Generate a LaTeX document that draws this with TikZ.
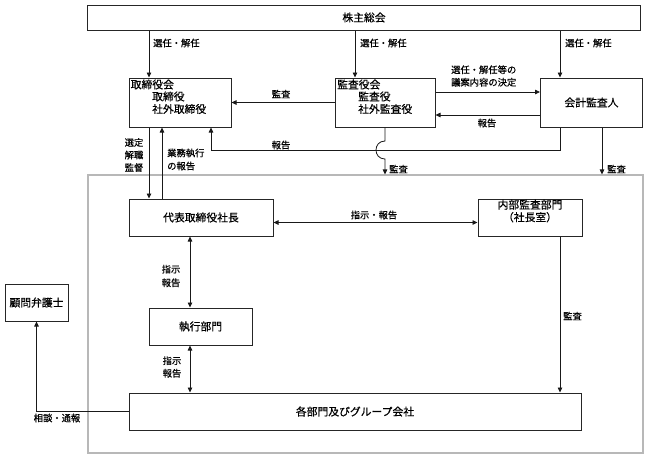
\documentclass[tikz,border=0pt]{standalone}
\usepackage{fontspec}
\setmainfont{Noto Sans CJK JP}[FakeBold=0.6]
\usetikzlibrary{arrows.meta,calc}
\newcommand\boxfnt{\fontsize{10.8}{13}\selectfont}
\newcommand\lblfnt{\fontsize{9.3}{12.5}\selectfont}
\tikzset{
  box/.style={draw=black!85, line width=1pt, inner sep=0pt, font=\boxfnt},
  outerbox/.style={draw=black!28, line width=1.1pt, inner sep=0pt},
  txt/.style={inner sep=0pt, font=\boxfnt},
  lbl/.style={inner sep=0pt, font=\lblfnt},
  conn/.style={draw=black!90, line width=0.8pt},
  arr/.style={conn, -{Triangle[length=5pt,width=4.5pt]}},
  darr/.style={conn, {Triangle[length=5pt,width=4.5pt]}-{Triangle[length=5pt,width=4.5pt]}}
}
\begin{document}
\begin{tikzpicture}[x=1pt,y=-1pt]
\useasboundingbox (0,0) rectangle (648,459);
% boxes
\node[outerbox, minimum width=555pt, minimum height=278pt] (grp) at (365.5,314) {};
\node[box, minimum width=553pt, minimum height=25pt] (kabu) at (364,17.5) {株主総会};
\node[box, minimum width=102pt, minimum height=49pt] (tori) at (180,102.5) {};
\node[box, minimum width=100pt, minimum height=49pt] (kansa) at (385,102.5) {};
\node[box, minimum width=102pt, minimum height=49pt] (kaikei) at (591.5,102.5) {会計監査人};
\node[box, minimum width=144pt, minimum height=37pt] (daihyo) at (201,217.5) {代表取締役社長};
\node[box, minimum width=104pt, minimum height=37pt] (naibu) at (530,217.5) {};
\node[box, minimum width=103pt, minimum height=37pt] (shikko) at (200.5,326.5) {執行部門};
\node[box, minimum width=452pt, minimum height=37pt] (kakubu) at (355,411.5) {各部門及びグループ会社};
\node[box, minimum width=63pt, minimum height=37pt] (komon) at (36.5,302.5) {顧問弁護士};
% texts inside boxes
\node[txt, anchor=west] (t1) at (130.5,84.5) {取締役会};
\node[txt, anchor=west] (t2) at (152,96.5) {取締役};
\node[txt, anchor=west] (t3) at (152,109) {社外取締役};
\node[txt, anchor=west] (k1) at (337,84.5) {監査役会};
\node[txt, anchor=west] (k2) at (358,96.5) {監査役};
\node[txt, anchor=west] (k3) at (358,109) {社外監査役};
\node[txt, align=center, font={\fontsize{10.8}{12.5}\selectfont}] (n1) at (530,211) {内部監査部門\\（社長室）};
% helper coordinates
\coordinate (xa) at (149,0);
\coordinate (xb) at (355,0);
\coordinate (xc) at (560,0);
\coordinate (xd) at (162,0);
\coordinate (xe) at (211,0);
\coordinate (xf) at (385,0);
\coordinate (xg) at (602,0);
\coordinate (xh) at (190,0);
\coordinate (yb) at (0,92);
\coordinate (yc) at (0,115);
\coordinate (yd) at (0,150);
\coordinate (ye) at (0,222.5);
\coordinate (hop) at (xf |- yd);
% connectors
\draw[arr] (kabu.south -| xa) -- (tori.north -| xa);
\draw[arr] (kabu.south -| xb) -- (kansa.north -| xb);
\draw[arr] (kabu.south -| xc) -- (kaikei.north -| xc);
\draw[arr] (kansa.west) -- (tori.east);
\draw[arr] (kansa.east |- yb) -- (kaikei.west |- yb);
\draw[arr] (kaikei.west |- yc) -- (kansa.east |- yc);
\draw[arr] (kaikei.south -| xc) -- (xc |- yd) -- (xe |- yd) -- (tori.south -| xe);
\draw[arr] (kansa.south -| xf) -- ($(hop)+(0,-9)$) .. controls +(-12,0) and +(-12,0) .. ($(hop)+(0,9)$) -- (grp.north -| xf);
\draw[arr] (kaikei.south -| xg) -- (grp.north -| xg);
\draw[arr] (tori.south -| xa) -- (daihyo.north -| xa);
\draw[arr] (daihyo.north -| xd) -- (tori.south -| xd);
\draw[darr] (daihyo.east |- ye) -- (naibu.west |- ye);
\draw[darr] (daihyo.south -| xh) -- (shikko.north -| xh);
\draw[darr] (shikko.south -| xh) -- (kakubu.north -| xh);
\draw[arr] (naibu.south -| xc) -- (kakubu.north -| xc);
\draw[arr] (kakubu.west) -| (komon.south);
% labels
\node[lbl, anchor=west] (l1) at (153,43) {選任・解任};
\node[lbl, anchor=west] (l2) at (360,43) {選任・解任};
\node[lbl, anchor=west] (l3) at (565,43) {選任・解任};
\node[lbl] (l4) at (281,94) {監査};
\node[lbl, anchor=west, align=left] (l5) at (451,76) {選任・解任等の\\議案内容の決定};
\node[lbl] (l6) at (487,123) {報告};
\node[lbl] (l7) at (281,145) {報告};
\node[lbl, anchor=west] (l8) at (389,169) {監査};
\node[lbl, anchor=west] (l9) at (607,169) {監査};
\node[lbl, align=center] (l10) at (134,155) {選定\\解職\\監督};
\node[lbl, anchor=west, align=left, font={\fontsize{9.3}{13}\selectfont}] (l11) at (167,159.5) {業務執行\\の報告};
\node[lbl] (l12) at (374,215) {指示・報告};
\node[lbl, align=center, font={\fontsize{9.3}{13.5}\selectfont}] (l13) at (171,276) {指示\\報告};
\node[lbl, align=center] (l14) at (172,367) {指示\\報告};
\node[lbl, anchor=west] (l15) at (563,316) {監査};
\node[lbl] (l16) at (57,418) {相談・通報};
\end{tikzpicture}
\end{document}
